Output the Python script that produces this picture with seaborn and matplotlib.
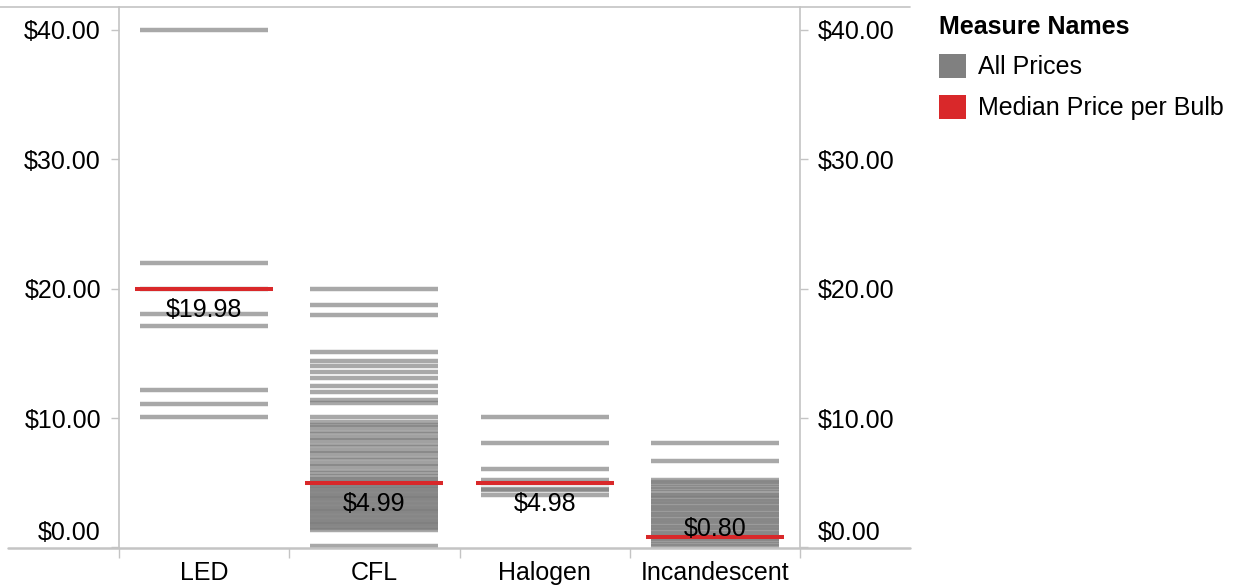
import matplotlib.pyplot as plt
import matplotlib.transforms as mtransforms
from matplotlib.lines import Line2D
from matplotlib.patches import Patch
import pandas as pd
import seaborn as sns

# ---- data ----
bulb_types = ["LED", "CFL", "Halogen", "Incandescent"]

led_prices = [40.00, 21.96, 19.98, 18.02, 17.12, 12.17, 11.11, 10.11]

cfl_prices = [19.95, 18.74, 17.99, 15.08, 14.39, 14.03, 13.56, 13.12, 12.48,
              12.02, 11.39, 11.14, 10.11,
              9.69, 9.49, 9.29, 8.99, 8.79, 8.49, 8.29, 7.99, 7.79, 7.49,
              7.29, 6.99, 6.79, 6.49, 6.29, 5.99, 5.79, 5.49, 5.29, 5.19,
              4.99, 4.89, 4.79, 4.59, 4.49, 4.29, 4.19, 3.99, 3.89, 3.79,
              3.59, 3.49, 3.29, 3.19, 2.99, 2.89, 2.79, 2.59, 2.49, 2.29,
              2.19, 1.99, 1.89, 1.79, 1.59, 1.48, 1.35, 0.14]

halogen_prices = [10.06, 8.05, 6.04, 5.22, 4.98, 4.49, 4.47, 4.06]

incandescent_prices = [8.05, 6.68, 5.22, 5.05, 4.89, 4.69, 4.49, 4.29, 4.09,
                       3.99, 3.79, 3.59, 3.49, 3.29, 3.09, 2.99, 2.79, 2.59,
                       2.49, 2.29, 2.09, 1.99, 1.79, 1.59, 1.49, 1.29, 1.09,
                       0.99, 0.80, 0.69, 0.49, 0.29, 0.10]

median_prices = [19.98, 4.99, 4.98, 0.80]
median_labels = ["$19.98", "$4.99", "$4.98", "$0.80"]

y_ticks = [0, 10, 20, 30, 40]

GRAY = "#7b7b7b"
RED = "#d9282a"
AXIS = "#c4c4c4"

sns.set_theme(style="white")
plt.rcParams["font.family"] = ["Liberation Sans", "DejaVu Sans"]
plt.rcParams["font.size"] = 18
plt.rcParams["text.color"] = "black"

all_prices = {"LED": led_prices, "CFL": cfl_prices,
              "Halogen": halogen_prices, "Incandescent": incandescent_prices}
prices = pd.DataFrame([(k, p) for k, vals in all_prices.items() for p in vals],
                      columns=["Bulb Type", "Price"])
medians = pd.DataFrame({"Bulb Type": bulb_types, "Median": median_prices})

W, H = 1244, 586
fig = plt.figure(figsize=(W / 100, H / 100), dpi=100)
ax = fig.add_axes([119 / W, 38 / H, 681 / W, 541 / H])

# all prices: one thin gray dash per price
sns.scatterplot(data=prices, x="Bulb Type", y="Price", marker="_", s=92 ** 2,
                linewidth=3.2, color=GRAY, alpha=0.66, legend=False, ax=ax)
# medians in red
sns.scatterplot(data=medians, x="Bulb Type", y="Median", marker="_", s=100 ** 2,
                linewidth=2.9, color=RED, legend=False, ax=ax, zorder=3)

for i, (m, lab) in enumerate(zip(median_prices, median_labels)):
    dy = -15 if m > 2 else 6   # label sits above the line near the floor
    ax.annotate(lab, (i, m), xytext=(0, dy), textcoords="offset points",
                ha="center", va="center", fontsize=18, color="black", zorder=4)

ax.set_xlim(-0.5, 3.5)
ax.set_ylim(-0.04, 41.77)
ax.set_xlabel("")
ax.set_ylabel("")

ax.set_yticks(y_ticks)
ax.set_yticklabels([f"${v:.2f}" for v in y_ticks])
ax.tick_params(axis="y", which="major", left=True, right=True,
               labelleft=True, labelright=True, length=6, width=1,
               color=AXIS, pad=7, labelsize=18, labelcolor="black")

ax.set_xticks(range(len(bulb_types)))
ax.set_xticklabels(bulb_types)
ax.set_xticks([-0.5, 0.5, 1.5, 2.5, 3.5], minor=True)
ax.tick_params(axis="x", which="major", length=0, pad=9.5, labelsize=18,
               labelcolor="black")
ax.tick_params(axis="x", which="minor", bottom=True, length=7, width=1,
               color=AXIS)

for side in ["left", "right"]:
    ax.spines[side].set_color(AXIS)
    ax.spines[side].set_linewidth(1.2)
for side in ["top", "bottom"]:
    ax.spines[side].set_visible(False)

# long horizontal rules like the dashboard frame
fig.add_artist(Line2D([0, 910 / W], [1 - 7 / H] * 2, color=AXIS, lw=1.2))
fig.add_artist(Line2D([8 / W, 910 / W], [38 / H] * 2, color=AXIS, lw=1.8))

# the $0.00 labels are nudged up to stay inside the pane
shift = mtransforms.ScaledTranslation(0, 0.17, fig.dpi_scale_trans)
t0 = ax.yaxis.get_major_ticks()[0]
t0.label1.set_transform(t0.label1.get_transform() + shift)
t0.label2.set_transform(t0.label2.get_transform() + shift)

handles = [Patch(facecolor="#808080", edgecolor="none", label="All Prices"),
           Patch(facecolor=RED, edgecolor="none", label="Median Price per Bulb")]
leg = fig.legend(handles=handles, title="Measure Names", loc="upper left",
                 bbox_to_anchor=(939 / W, 1 - 15 / H), frameon=False, fontsize=18,
                 title_fontproperties={"weight": "bold", "size": 18},
                 handlelength=1.1, handleheight=1.1, handletextpad=0.45,
                 labelspacing=0.6, borderpad=0, borderaxespad=0,
                 alignment="left")
leg.get_title().set_color("black")
for t in leg.get_texts():
    t.set_color("black")

plt.savefig("out.png", dpi=100)
